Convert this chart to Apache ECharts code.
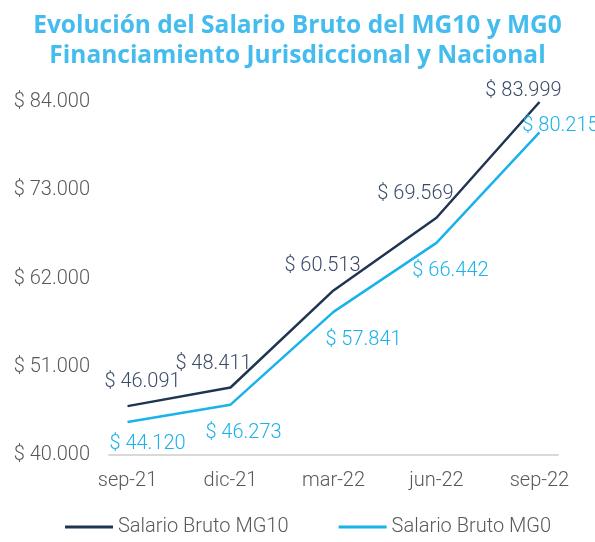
<!DOCTYPE html>
<html>
<head>
<meta charset="utf-8">
<script src="https://cdn.jsdelivr.net/npm/echarts@6/dist/echarts.min.js"></script>
<style>
  html, body { margin: 0; padding: 0; background: #fff; }
  #chart { width: 595px; height: 542px; }
</style>
</head>
<body>
<div id="chart"></div>
<script>
// datos
const categories = ['sep-21', 'dic-21', 'mar-22', 'jun-22', 'sep-22']
const salarioMG10 = [46091, 48411, 60513, 69569, 83999]
const salarioMG0 = [44120, 46273, 57841, 66442, 80215]
const yTicks = [40000, 51000, 62000, 73000, 84000]

// desplazamiento de cada etiqueta respecto a su punto
const offsetMG10 = [[15, 0], [-17, 0], [-11, 0], [-21, 0], [-16, 13]]
const offsetMG0 = [[20, 0], [13, 6], [30, 6], [14, 6], [21, 0]]

const darkColor = '#1F3552'
const lightColor = '#1AB2EA'
const grayText = '#595959'

function fmtPesos(v) {
  return '$ ' + String(Math.round(v)).replace(/\B(?=(\d{3})+(?!\d))/g, '.')
}

const chart = echarts.init(document.getElementById('chart'))

chart.setOption({
  textStyle: { fontFamily: 'Roboto' },
  title: {
    text: 'Evolución del Salario Bruto del MG10 y MG0\nFinanciamiento Jurisdiccional y Nacional',
    left: 'center',
    top: 6,
    textStyle: {
      fontFamily: 'Open Sans',
      fontWeight: 'bold',
      fontSize: 24.5,
      lineHeight: 30,
      color: '#45BCEE'
    }
  },
  legend: {
    bottom: 0,
    left: 60,
    icon: 'rect',
    itemWidth: 48,
    itemHeight: 3,
    itemGap: 50,
    textStyle: { color: grayText, fontSize: 20, fontFamily: 'Roboto', fontWeight: 300 },
    data: ['Salario Bruto MG10', 'Salario Bruto MG0']
  },
  grid: {
    left: 109,
    right: 37,
    top: 102,
    bottom: 87
  },
  xAxis: {
    type: 'value',
    min: -0.18,
    max: 4.18,
    axisLine: { show: true, lineStyle: { color: '#D9D9D9', width: 2 } },
    axisTick: { show: false },
    splitLine: { show: false },
    axisLabel: {
      customValues: categories.map((c, i) => i),
      formatter: v => categories[Math.round(v)],
      color: grayText,
      fontSize: 20,
      fontWeight: 300,
      margin: 16
    }
  },
  yAxis: {
    type: 'value',
    min: 40000,
    max: 84000,
    interval: 11000,
    axisLine: { show: false },
    axisTick: { show: false },
    splitLine: { show: false },
    axisLabel: {
      customValues: yTicks,
      formatter: fmtPesos,
      color: grayText,
      fontSize: 20,
      fontWeight: 300,
      margin: 19
    }
  },
  series: [{
    name: 'Salario Bruto MG10',
    type: 'line',
    symbol: 'circle',
    symbolSize: 0,
    lineStyle: { color: darkColor, width: 2.5 },
    itemStyle: { color: darkColor },
    data: salarioMG10.map((v, i) => ({
      value: [i, v],
      label: { offset: offsetMG10[i] }
    })),
    label: {
      show: true,
      position: 'top',
      distance: 14,
      color: '#3A4B68',
      fontSize: 20,
      fontWeight: 300,
      formatter: p => fmtPesos(p.value[1])
    }
  }, {
    name: 'Salario Bruto MG0',
    type: 'line',
    symbol: 'circle',
    symbolSize: 0,
    lineStyle: { color: lightColor, width: 2.5 },
    itemStyle: { color: lightColor },
    data: salarioMG0.map((v, i) => ({
      value: [i, v],
      label: i === salarioMG0.length - 1
        ? { position: 'top', distance: -4, offset: offsetMG0[i] }
        : { offset: offsetMG0[i] }
    })),
    label: {
      show: true,
      position: 'bottom',
      distance: 12,
      color: lightColor,
      fontSize: 20,
      fontWeight: 300,
      formatter: p => fmtPesos(p.value[1])
    }
  }]
})
</script>
</body>
</html>
